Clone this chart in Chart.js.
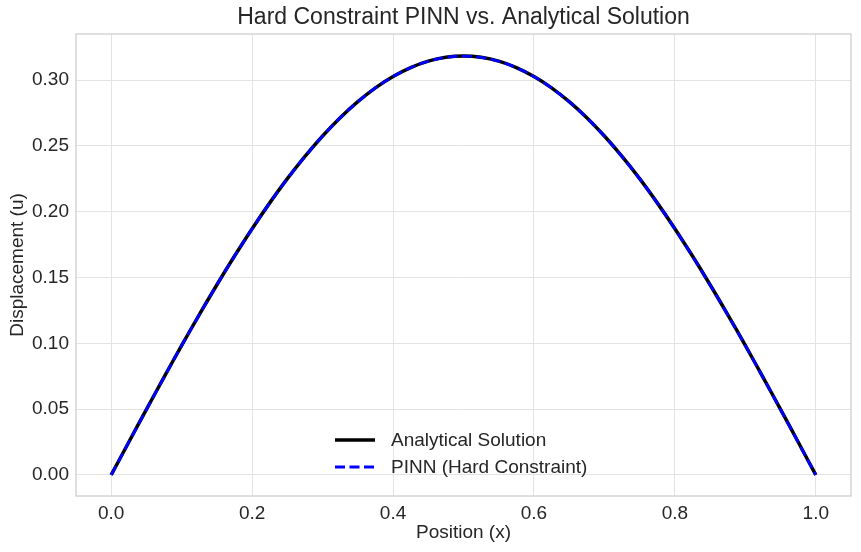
<!DOCTYPE html>
<html>
<head>
<meta charset="utf-8">
<script src="https://cdn.jsdelivr.net/npm/chart.js@4.4.1/dist/chart.umd.min.js"></script>
<style>
  html, body { margin: 0; padding: 0; background: #fff; }
  #wrap { width: 861px; height: 552px; }
</style>
</head>
<body>
<div id="wrap"><canvas id="myChart" width="861" height="552"></canvas></div>
<script>
// values
var positions = [0.000, 0.025, 0.050, 0.075, 0.100, 0.125, 0.150, 0.175, 0.200, 0.225,
                 0.250, 0.275, 0.300, 0.325, 0.350, 0.375, 0.400, 0.425, 0.450, 0.475,
                 0.500, 0.525, 0.550, 0.575, 0.600, 0.625, 0.650, 0.675, 0.700, 0.725,
                 0.750, 0.775, 0.800, 0.825, 0.850, 0.875, 0.900, 0.925, 0.950, 0.975, 1.000];
var analytical = [0.0000, 0.0250, 0.0498, 0.0743, 0.0984, 0.1218, 0.1445, 0.1663, 0.1871, 0.2067,
                  0.2251, 0.2420, 0.2575, 0.2714, 0.2836, 0.2941, 0.3027, 0.3095, 0.3144, 0.3173,
                  0.3183, 0.3173, 0.3144, 0.3095, 0.3027, 0.2941, 0.2836, 0.2714, 0.2575, 0.2420,
                  0.2251, 0.2067, 0.1871, 0.1663, 0.1445, 0.1218, 0.0984, 0.0743, 0.0498, 0.0250, 0.0000];
var pinn = [0.0000, 0.0249, 0.0497, 0.0742, 0.0983, 0.1217, 0.1444, 0.1662, 0.1870, 0.2066,
            0.2250, 0.2419, 0.2574, 0.2713, 0.2835, 0.2940, 0.3026, 0.3094, 0.3143, 0.3172,
            0.3182, 0.3172, 0.3143, 0.3094, 0.3026, 0.2940, 0.2835, 0.2713, 0.2574, 0.2419,
            0.2250, 0.2066, 0.1870, 0.1662, 0.1444, 0.1217, 0.0983, 0.0742, 0.0497, 0.0249, 0.0000];
var xTicks = [0.0, 0.2, 0.4, 0.6, 0.8, 1.0];
var yTicks = [0.00, 0.05, 0.10, 0.15, 0.20, 0.25, 0.30];
var chartTitle = 'Hard Constraint PINN vs. Analytical Solution';

var FONT = "'Liberation Sans', Arial, sans-serif";
var TEXT = '#262626';

function toPoints(vals) {
  return vals.map(function(v, i) { return {x: positions[i], y: v}; });
}

// frame, title over the plot area, legend inside the plot
var framePlugin = {
  id: 'frame',
  afterDraw: function(chart) {
    var ctx = chart.ctx, a = chart.chartArea;
    ctx.save();
    ctx.strokeStyle = '#cccccc';
    ctx.lineWidth = 1.25;
    ctx.strokeRect(a.left, a.top, a.right - a.left, a.bottom - a.top);

    ctx.fillStyle = TEXT;
    ctx.font = '23px ' + FONT;
    ctx.textAlign = 'center';
    ctx.textBaseline = 'middle';
    ctx.fillText(chartTitle, (a.left + a.right) / 2, 18);

    var sets = chart.data.datasets;
    var lx = 335, ly = 440;
    ctx.font = '19px ' + FONT;
    ctx.textAlign = 'left';
    sets.forEach(function(ds, i) {
      var y = ly + i * 27;
      ctx.beginPath();
      ctx.setLineDash(ds.borderDash || []);
      ctx.strokeStyle = ds.borderColor;
      ctx.lineWidth = ds.borderWidth;
      ctx.moveTo(lx, y);
      ctx.lineTo(lx + 40, y);
      ctx.stroke();
      ctx.setLineDash([]);
      ctx.fillStyle = TEXT;
      ctx.fillText(ds.label, lx + 56, y + 1);
    });
    ctx.restore();
  }
};

var ctx = document.getElementById('myChart').getContext('2d');
var myChart = new Chart(ctx, {
  type: 'line',
  data: {
    datasets: [{
      label: 'Analytical Solution',
      data: toPoints(analytical),
      borderColor: '#000000',
      borderWidth: 3.5,
      pointRadius: 0,
      tension: 0.4,
      fill: false,
      order: 2
    }, {
      label: 'PINN (Hard Constraint)',
      data: toPoints(pinn),
      borderColor: '#0000ff',
      borderWidth: 2.8,
      borderDash: [10, 4.5],
      pointRadius: 0,
      tension: 0.4,
      fill: false,
      order: 1
    }]
  },
  options: {
    responsive: false,
    animation: false,
    layout: { padding: { left: 0, right: 10, top: 34, bottom: 0 } },
    plugins: {
      legend: { display: false },
      tooltip: { enabled: false },
      title: { display: false }
    },
    scales: {
      x: {
        type: 'linear',
        min: -0.05,
        max: 1.05,
        afterBuildTicks: function(scale) {
          scale.ticks = xTicks.map(function(v) { return {value: v}; });
        },
        afterFit: function(scale) { scale.height = 56; },
        border: { display: false },
        grid: { color: '#e3e3e3', lineWidth: 1, drawTicks: false },
        ticks: {
          color: TEXT,
          padding: 6,
          maxRotation: 0,
          font: { family: FONT, size: 19 },
          callback: function(v) { return Number(v).toFixed(1); }
        },
        title: {
          display: true,
          text: 'Position (x)',
          color: TEXT,
          font: { family: FONT, size: 19 },
          padding: { top: 0, bottom: 8 }
        }
      },
      y: {
        type: 'linear',
        min: -0.016,
        max: 0.335,
        afterBuildTicks: function(scale) {
          scale.ticks = yTicks.map(function(v) { return {value: v}; });
        },
        afterFit: function(scale) { scale.width = 76; },
        border: { display: false },
        grid: { color: '#e3e3e3', lineWidth: 1, drawTicks: false },
        ticks: {
          color: TEXT,
          padding: 7,
          font: { family: FONT, size: 19 },
          callback: function(v) { return Number(v).toFixed(2); }
        },
        title: {
          display: true,
          text: 'Displacement (u)',
          color: TEXT,
          font: { family: FONT, size: 19 },
          padding: { top: 6, bottom: 0 }
        }
      }
    }
  },
  plugins: [framePlugin]
});
</script>
</body>
</html>
